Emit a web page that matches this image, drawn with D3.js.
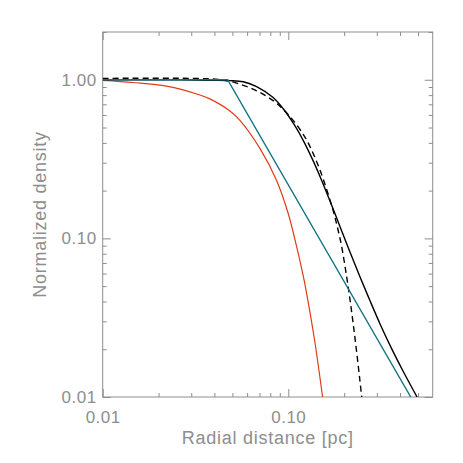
<!DOCTYPE html>
<html>
    <head>
        <script src="https://cdnjs.cloudflare.com/ajax/libs/d3/7.8.5/d3.min.js"></script>
        <title>Normalized density profiles</title>

        <style>
            html, body {
                margin: 0;
                background-color: white;
            }

            .svg_canvas {
                display: block;
            }

            .tick text {
                font-family: "Liberation Sans", sans-serif;
                font-size: 17px;
                letter-spacing: 0.5px;
                fill: #8e8e8e;
            }

            .axis_title {
                font-family: "Liberation Sans", sans-serif;
                font-size: 18px;
                letter-spacing: 0.75px;
                fill: #8e8e8e;
            }
        </style>
    </head>
    <body>
        <svg height="463" width="463" class="svg_canvas"></svg>

        <script>

            // tick values
            var xMajor = [0.01, 0.1];
            var xMinor = [0.02, 0.03, 0.04, 0.05, 0.06, 0.07, 0.08, 0.09, 0.2, 0.3, 0.4, 0.5];
            var yMajor = [0.01, 0.1, 1];
            var yMinor = [0.02, 0.03, 0.04, 0.05, 0.06, 0.07, 0.08, 0.09,
                          0.2, 0.3, 0.4, 0.5, 0.6, 0.7, 0.8, 0.9, 2];

            // black solid curve
            var blackR = [0.01, 0.0261, 0.0378, 0.0485, 0.0572, 0.0675, 0.0829, 0.0939, 0.1085,
                          0.1203, 0.1362, 0.1517, 0.1711, 0.1896, 0.2102, 0.243, 0.275, 0.3113,
                          0.3599, 0.4157, 0.4943];
            var blackN = [1.0, 0.999, 0.993, 0.988, 0.971, 0.905, 0.772, 0.656, 0.513,
                          0.415, 0.308, 0.2303, 0.1624, 0.1194, 0.0876, 0.0575, 0.0407, 0.0291,
                          0.02025, 0.01454, 0.01];

            // black dashed curve
            var dashR = [0.01, 0.0334, 0.0428, 0.0527, 0.0675, 0.0829, 0.0939, 0.1072, 0.1203,
                         0.128, 0.148, 0.1745, 0.1856, 0.1936, 0.206, 0.2146, 0.2236, 0.2332,
                         0.243, 0.2512];
            var dashN = [1.02, 1.018, 1.003, 0.952, 0.852, 0.738, 0.651, 0.548, 0.453,
                         0.400, 0.2704, 0.1495, 0.1125, 0.0897, 0.058, 0.0419, 0.0291, 0.0195,
                         0.0128, 0.00895];

            // teal broken power law
            var tealR = [0.01, 0.0471, 0.457];
            var tealN = [1.0, 1.0, 0.01];

            // red curve
            var redR = [0.01, 0.0146, 0.0221, 0.0334, 0.0378, 0.0485, 0.0549, 0.0703, 0.0865,
                        0.1, 0.111, 0.12, 0.1256, 0.139, 0.153];
            var redN = [0.991, 0.961, 0.912, 0.802, 0.758, 0.636, 0.554, 0.369, 0.232,
                        0.143, 0.0884, 0.059, 0.0449, 0.0223, 0.01];

            var plotLeft = 102.7, plotRight = 432.7, plotTop = 32, plotBottom = 397;

            var x = d3.scaleLog()
                .domain([0.01, 0.6])
                .range([plotLeft, plotRight]);

            var y = d3.scaleLog()
                .domain([0.01, 2])
                .range([plotBottom, plotTop]);

            var svg = d3.select(".svg_canvas");

            var fmt = d3.format(".2f");

            // major / minor ticks on all four sides, pointing inward
            function addAxis(gen, values, size, pad, transform) {
                var g = svg.append("g")
                    .attr("transform", transform)
                    .call(gen.tickValues(values)
                        .tickSize(-size)
                        .tickSizeOuter(0)
                        .tickPadding(pad)
                        .tickFormat(pad ? fmt : ""));
                g.select(".domain").remove();
                g.selectAll(".tick line").attr("stroke", "#8e8e8e");
                return g;
            }

            addAxis(d3.axisBottom(x), xMajor, 8, 14, "translate(0," + plotBottom + ")");
            addAxis(d3.axisBottom(x), xMinor, 4, 0, "translate(0," + plotBottom + ")");
            addAxis(d3.axisTop(x), xMajor, 8, 0, "translate(0," + plotTop + ")");
            addAxis(d3.axisTop(x), xMinor, 4, 0, "translate(0," + plotTop + ")");
            addAxis(d3.axisLeft(y), yMajor, 8, 6, "translate(" + plotLeft + ",0)");
            addAxis(d3.axisLeft(y), yMinor, 4, 0, "translate(" + plotLeft + ",0)");
            addAxis(d3.axisRight(y), yMajor, 8, 0, "translate(" + plotRight + ",0)");
            addAxis(d3.axisRight(y), yMinor, 4, 0, "translate(" + plotRight + ",0)");

            svg.append("rect")
                .attr("x", plotLeft)
                .attr("y", plotTop)
                .attr("width", plotRight - plotLeft)
                .attr("height", plotBottom - plotTop)
                .attr("fill", "none")
                .attr("stroke", "#8e8e8e")
                .attr("stroke-width", 1);

            svg.append("clipPath")
                .attr("id", "plot_clip")
                .append("rect")
                .attr("x", plotLeft)
                .attr("y", plotTop)
                .attr("width", plotRight - plotLeft)
                .attr("height", plotBottom - plotTop);

            var smooth = d3.line()
                .x(function(d){ return x(d[0]); })
                .y(function(d){ return y(d[1]); })
                .curve(d3.curveCatmullRom.alpha(0.5));

            var straight = d3.line()
                .x(function(d){ return x(d[0]); })
                .y(function(d){ return y(d[1]); });

            var curves = [
                {r: redR, n: redN, color: "#e23a16", width: 1.2, dash: null, gen: smooth},
                {r: blackR, n: blackN, color: "#000000", width: 1.4, dash: null, gen: smooth},
                {r: dashR, n: dashN, color: "#000000", width: 1.4, dash: "6,4", gen: smooth},
                {r: tealR, n: tealN, color: "#137383", width: 1.4, dash: null, gen: straight}
            ];

            svg.append("g")
                .attr("clip-path", "url(#plot_clip)")
                .selectAll("path")
                .data(curves)
                .enter()
                .append("path")
                .attr("d", function(d){
                    return d.gen(d3.zip(d.r, d.n));
                })
                .attr("fill", "none")
                .attr("stroke", function(d){ return d.color; })
                .attr("stroke-width", function(d){ return d.width; })
                .attr("stroke-dasharray", function(d){ return d.dash; });

            svg.append("text")
                .attr("class", "axis_title")
                .attr("x", (plotLeft + plotRight) / 2)
                .attr("y", 444)
                .attr("text-anchor", "middle")
                .text("Radial distance [pc]");

            svg.append("text")
                .attr("class", "axis_title")
                .attr("transform", "translate(46," + ((plotTop + plotBottom) / 2) + ") rotate(-90)")
                .attr("text-anchor", "middle")
                .text("Normalized density");

        </script>
    </body>
</html>
